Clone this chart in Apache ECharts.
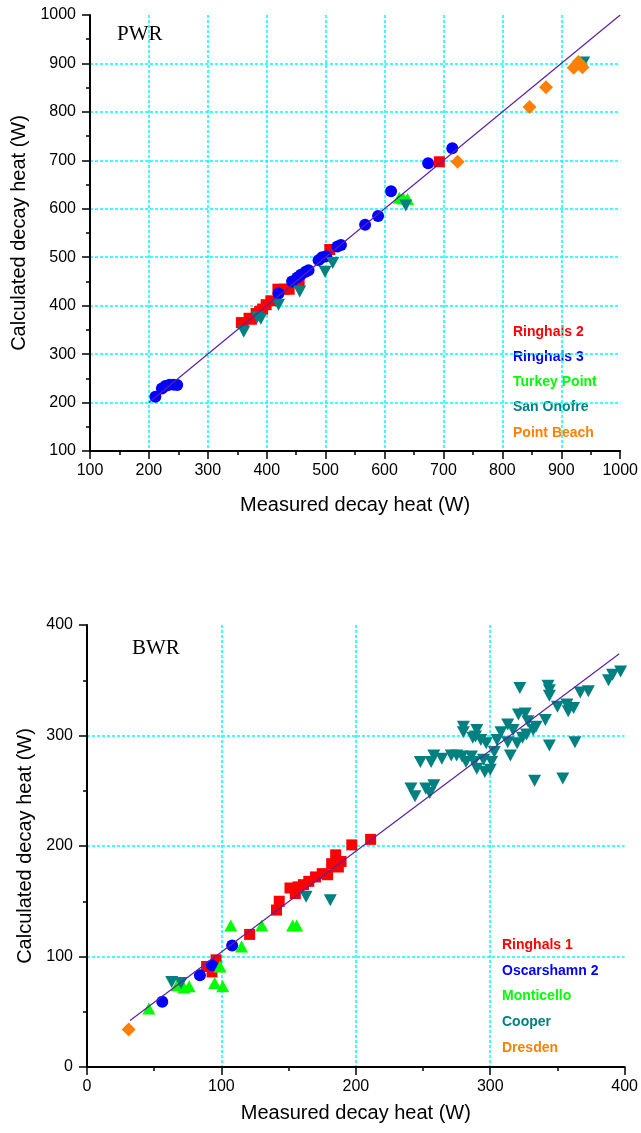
<!DOCTYPE html>
<html>
<head>
<meta charset="utf-8">
<script src="https://cdn.jsdelivr.net/npm/echarts@6/dist/echarts.min.js"></script>
<style>
  html, body { margin: 0; padding: 0; background: #fff; }
  #chart { width: 641px; height: 1133px; }
</style>
</head>
<body>
<div id="chart"></div>
<script>
// ---- PWR assemblies: [measured W, calculated W] ----
const ringhals2 = [[357,365],[360,364],[370,374],[374,372],[382,384],[388,388],[393,393],[399,402],[407,410],[419,434],[430,434],[438,434],[455,449],[507,516],[693,697]];
const ringhals3 = [[211,212],[222,229],[228,234],[235,237],[242,237],[248,236],[420,425],[443,450],[452,458],[458,464],[466,470],[471,473],[488,494],[494,500],[501,502],[520,522],[526,525],[567,567],[589,585],[611,636],[674,694],[715,725]];
const turkeyPoint = [[625,623],[632,621],[639,620]];
const sanOnofre = [[361,346],[384,376],[390,373],[420,402],[456,429],[499,470],[512,488],[636,607],[938,902]];
const pointBeach = [[724,697],[846,810],[874,851],[921,891],[929,903],[932,899],[936,892]];
const pwrFit = [[200,200],[1000,1000]];

// ---- BWR assemblies: [measured W, calculated W] ----
const ringhals1 = [[89,91],[93,86],[96,97],[121,120],[141,142],[143,150],[151,162],[155,157],[157,163],[161,165],[165,168],[170,172],[175,175],[179,174],[182,184],[187,181],[189,186],[185,192],[197,201],[211,206]];
const oscarshamn2 = [[56,59],[84,83],[93,92],[108,110]];
const monticello = [[46,53],[67,74],[72,72],[76,73],[95,76],[101,73],[99,91],[107,128],[115,109],[130,128],[153,128],[156,128]];
const cooper = [[63,77],[70,76],[163,154],[181,151],
  [241,252],[244,245],[252,252],[255,248],[258,255],
  [248,276],[256,276],[258,282],[264,279],[271,282],[275,282],[279,281],[282,276],[286,281],
  [288,276],[290,270],[296,267],[300,269],[301,276],[295,278],[303,285],[305,296],[297,293],[293,296],[289,299],[287,298],[290,305],[280,308],[280,303],
  [308,303],[313,310],[313,294],[317,305],[320,293],[324,298],[327,301],[328,313],[321,319],[326,320],[332,305],[334,308],[341,314],[315,282],
  [322,343],[343,345],[344,341],[344,336],[350,326],[357,328],[358,322],[362,325],[367,339],[373,340],[388,350],[391,355],[397,358],
  [333,259],[354,261],[344,291],[363,294]];
const dresden = [[31,34]];
const bwrFit = [[32,42],[396,374]];

// ---- series names and colours ----
const pwrNames = ['Ringhals 2','Ringhals 3','Turkey Point','San Onofre','Point Beach'];
const bwrNames = ['Ringhals 1','Oscarshamn 2','Monticello','Cooper','Dresden'];
const colors = ['#FF0000','#0000FF','#00FF00','#008080','#FF8000'];

// ---- axis ranges / tick steps ----
const pwrX = [100, 1000, 100];
const pwrY = [100, 1000, 100];
const bwrX = [0, 400, 100];
const bwrY = [0, 400, 100];

const sans = 'Liberation Sans, Arial, sans-serif';
const serif = 'Liberation Serif, Times New Roman, serif';
const xTitle = 'Measured decay heat (W)';
const yTitle = 'Calculated decay heat (W)';

function valueAxis(range, gridIndex, isY, nameGap) {
  return {
    type: 'value', gridIndex,
    min: range[0], max: range[1], interval: range[2],
    name: isY ? yTitle : xTitle,
    nameLocation: 'middle', nameGap,
    nameTextStyle: { fontFamily: sans, fontSize: 20, color: '#000' },
    axisLine: { show: true, onZero: false, lineStyle: { color: '#000', width: 2 } },
    axisTick: { show: true, inside: false, length: 8, lineStyle: { color: '#000', width: 1.5 } },
    minorTick: { show: true, splitNumber: 2, length: 4, lineStyle: { color: '#000', width: 1.5 } },
    axisLabel: {
      fontFamily: sans, fontSize: 16, color: '#000', margin: isY ? 14 : 12,
      formatter: v => String(v)
    },
    splitLine: {
      show: true, showMinLine: false, showMaxLine: false,
      lineStyle: { color: '#00FFFF', width: 1.5, type: [3, 2] }
    }
  };
}

const markers = [
  { symbol: 'rect', size: 11, rotate: 0 },
  { symbol: 'circle', size: 12, rotate: 0 },
  { symbol: 'triangle', size: [13, 12], rotate: 0 },
  { symbol: 'triangle', size: [13, 12], rotate: 180 },
  { symbol: 'diamond', size: 14, rotate: 0 }
];

function scatter(name, data, i, axisIdx) {
  return {
    type: 'scatter', name, data,
    xAxisIndex: axisIdx, yAxisIndex: axisIdx,
    symbol: markers[i].symbol, symbolSize: markers[i].size, symbolRotate: markers[i].rotate,
    itemStyle: { color: colors[i], opacity: 1 },
    z: 2 + i, silent: true, animation: false
  };
}

function fitLine(data, axisIdx) {
  return {
    type: 'line', data, xAxisIndex: axisIdx, yAxisIndex: axisIdx,
    symbol: 'none', lineStyle: { color: '#5A22A6', width: 1.2 },
    z: 10, silent: true, animation: false
  };
}

const pwrSets = [ringhals2, ringhals3, turkeyPoint, sanOnofre, pointBeach];
const bwrSets = [ringhals1, oscarshamn2, monticello, cooper, dresden];

const series = [];
pwrSets.forEach((d, i) => series.push(scatter(pwrNames[i], d, i, 0)));
series.push(fitLine(pwrFit, 0));
bwrSets.forEach((d, i) => series.push(scatter(bwrNames[i], d, i, 1)));
series.push(fitLine(bwrFit, 1));

// coloured station names drawn as plain text
function nameList(names, left, top, step) {
  return names.map((n, i) => ({
    type: 'text', left, top: top + i * step,
    style: { text: n, fill: colors[i], font: 'bold 14px ' + sans }
  }));
}

const chart = echarts.init(document.getElementById('chart'), null, { renderer: 'canvas' });
chart.setOption({
  backgroundColor: '#fff',
  animation: false,
  grid: [
    { left: 90, top: 15, width: 532, height: 436 },
    { left: 87, top: 625, width: 540, height: 442 }
  ],
  xAxis: [ valueAxis(pwrX, 0, false, 44), valueAxis(bwrX, 1, false, 36) ],
  yAxis: [ valueAxis(pwrY, 0, true, 50), valueAxis(bwrY, 1, true, 50) ],
  series,
  graphic: [
    { type: 'text', left: 117, top: 24, style: { text: 'PWR', fill: '#000', font: '21px ' + serif } },
    { type: 'text', left: 132, top: 638, style: { text: 'BWR', fill: '#000', font: '21px ' + serif } },
    ...nameList(pwrNames, 513, 325, 25.2),
    ...nameList(bwrNames, 502, 938, 25.8)
  ]
});
</script>
</body>
</html>
